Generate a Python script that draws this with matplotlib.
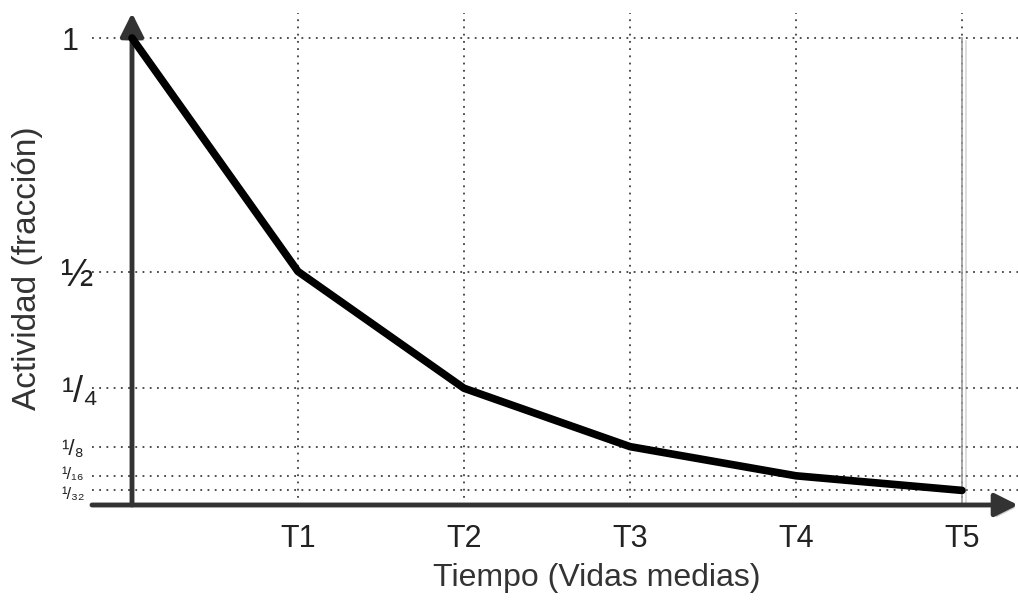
import numpy as np
import matplotlib.pyplot as plt
import matplotlib.patheffects as pe
from matplotlib.transforms import ScaledTranslation

# Datos: actividad (fracción) frente a vidas medias
vidas_medias = [0, 1, 2, 3, 4, 5]
actividad = [1, 1 / 2, 1 / 4, 1 / 8, 1 / 16, 1 / 32]

etiquetas_x = ["T1", "T2", "T3", "T4", "T5"]
posiciones_x = [1, 2, 3, 4, 5]
etiquetas_y = ["1", "½", "¹/₄", "¹/₈", "¹/₁₆", "¹/₃₂"]
posiciones_y = [1, 1 / 2, 1 / 4, 1 / 8, 1 / 16, 1 / 32]
tamanos_y = [22, 28, 26, 16, 12, 12]
desplaz_y = [0, 0, 0, 0, 3, -3]  # px, para separar 1/16 y 1/32

plt.rcParams['font.family'] = ['Liberation Sans', 'DejaVu Sans']

W, H = 1018, 607
fig = plt.figure(figsize=(W / 100, H / 100), dpi=100)

# ejes en píxeles: x=0 en 132, x=5 en 962 ; y=0 en 505, y=1 en 38
px_x, px_y = 166.0, 467.0
izq, der, abajo, arriba = 92, 1018, 505, 13
ax = fig.add_axes([izq / W, (H - abajo) / H, (der - izq) / W, (abajo - arriba) / H])
x0, x1 = -(132 - izq) / px_x, (der - 132) / px_x
y0, y1 = 0, (abajo - arriba) / px_y
ax.set_xlim(x0, x1)
ax.set_ylim(y0, y1)
for s in ax.spines.values():
    s.set_visible(False)

sombra = [pe.SimplePatchShadow(offset=(2, -2), shadow_rgbFace='0.6', alpha=0.5), pe.Normal()]
sombra_linea = [pe.SimpleLineShadow(offset=(3, -2), shadow_color='0.6', alpha=0.4), pe.Normal()]

# rejilla punteada
for y in posiciones_y:
    ax.plot([x0, x1], [y, y], ls=(0, (1, 3)), color='0.25', lw=1.3, zorder=1)
for x in posiciones_x:
    ax.plot([x, x], [0, y1], ls=(0, (1, 3)), color='0.25', lw=1.3, zorder=1)
ax.plot([5, 5], [0, 1], color='0.6', lw=1.2, zorder=1, path_effects=sombra_linea)

# ejes con flecha
ax.annotate('', xy=(x1, 0), xytext=(x0, 0), annotation_clip=False,
            arrowprops=dict(arrowstyle='-|>,head_length=1.4,head_width=0.7',
                            color='#333333', lw=3.5, shrinkA=0, shrinkB=0,
                            path_effects=sombra), zorder=3)
ax.annotate('', xy=(0, y1), xytext=(0, 0), annotation_clip=False,
            arrowprops=dict(arrowstyle='-|>,head_length=1.4,head_width=0.7',
                            color='#333333', lw=3.5, shrinkA=0, shrinkB=0,
                            path_effects=sombra), zorder=3)

# curva de decaimiento
ax.plot(vidas_medias, actividad, color='black', lw=5.5, solid_capstyle='round',
        solid_joinstyle='round', zorder=4, clip_on=False)

ax.set_xticks(posiciones_x)
ax.set_xticklabels(etiquetas_x, fontsize=22, color='#222222')
ax.tick_params(axis='x', length=0, pad=14)
ax.set_yticks(posiciones_y)
ax.set_yticklabels(etiquetas_y, color='#222222')
ax.tick_params(axis='y', length=0, pad=22)
for lab, t, d in zip(ax.get_yticklabels(), tamanos_y, desplaz_y):
    lab.set_horizontalalignment('left')
    lab.set_fontsize(t)
    lab.set_transform(lab.get_transform() + ScaledTranslation(0, d / 100, fig.dpi_scale_trans))

fig.text(597 / W, 1 - 578 / H, "Tiempo (Vidas medias)", fontsize=23, color='#333333',
         ha='center', va='center')
fig.text(28 / W, 1 - 268 / H, "Actividad (fracción)", fontsize=24, color='#333333',
         ha='center', va='center', rotation=90)

fig.savefig('out.png', dpi=100)
